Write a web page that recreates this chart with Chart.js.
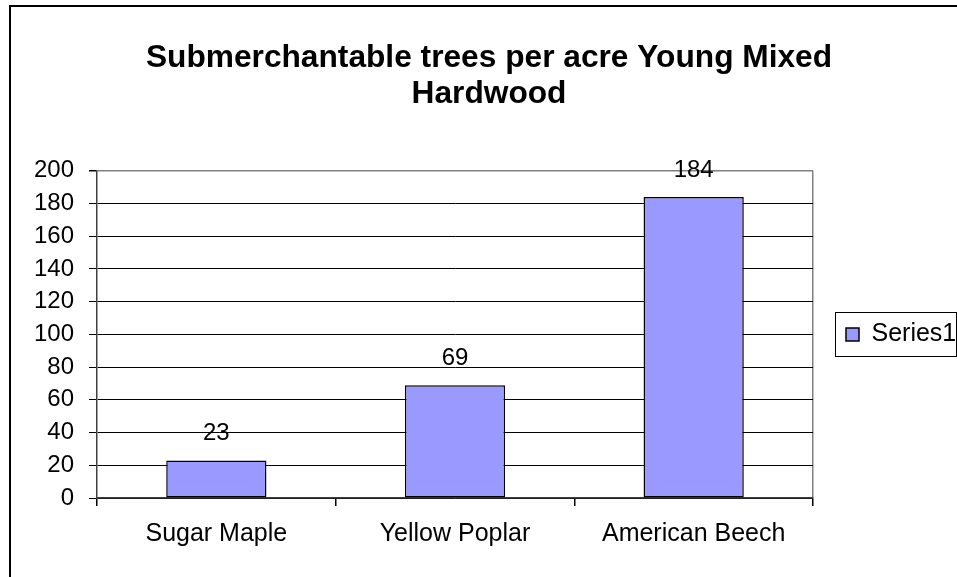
<!DOCTYPE html>
<html>
<head>
<meta charset="utf-8">
<script src="https://cdn.jsdelivr.net/npm/chart.js@4.4.1/dist/chart.umd.min.js"></script>
<style>
  html, body { margin: 0; padding: 0; background: #fff; overflow: hidden; }
  #wrap { position: relative; width: 957px; height: 577px; }
  #frame { position: absolute; left: 9px; top: 5px; width: 2000px; height: 2000px;
           border-left: 2px solid #000; border-top: 2px solid #000; }
  canvas { position: absolute; left: 0; top: 0; }
</style>
</head>
<body>
<div id="wrap">
  <div id="frame"></div>
  <canvas id="c" width="957" height="577"></canvas>
</div>
<script>
const titleLines = ['Submerchantable trees per acre Young Mixed', 'Hardwood'];
const categories = ['Sugar Maple', 'Yellow Poplar', 'American Beech'];
const seriesName = 'Series1';
const seriesValues = [23, 69, 184];
const yTicks = [0, 20, 40, 60, 80, 100, 120, 140, 160, 180, 200];

const FONT = '"Liberation Sans", Arial, sans-serif';
Chart.defaults.font.family = FONT;
Chart.defaults.color = '#000';

const PLOT_LEFT = 97, PLOT_RIGHT = 813, TITLE_CENTER = 489;
let padR = 0;
let padL = 2 * TITLE_CENTER - 957 + padR;

const valueLabels = {
  id: 'valueLabels',
  afterDatasetsDraw(chart) {
    const ctx = chart.ctx;
    const meta = chart.getDatasetMeta(0);
    ctx.save();
    ctx.font = '24px ' + FONT;
    ctx.fillStyle = '#000';
    ctx.textAlign = 'center';
    ctx.textBaseline = 'alphabetic';
    meta.data.forEach((bar, i) => {
      ctx.fillText(String(chart.data.datasets[0].data[i]), bar.x, bar.y - 20);
    });
    ctx.restore();
  }
};

const legendFrame = {
  id: 'legendFrame',
  afterDraw(chart) {
    const lg = chart.legend;
    if (!lg || !lg.legendHitBoxes || !lg.legendHitBoxes.length) return;
    const hb = lg.legendHitBoxes[0];
    const cy = hb.top + hb.height / 2;
    const ctx = chart.ctx;
    ctx.save();
    ctx.strokeStyle = '#000';
    ctx.lineWidth = 1;
    ctx.strokeRect(Math.round(hb.left - 11) + 0.5, Math.round(cy - 22) + 0.5, 121, 44);
    ctx.restore();
  }
};

const chart = new Chart(document.getElementById('c'), {
  type: 'bar',
  data: {
    labels: categories,
    datasets: [{
      label: seriesName,
      data: seriesValues,
      backgroundColor: '#9999FF',
      borderColor: '#000',
      borderWidth: 1.5,
      borderSkipped: false,
      barPercentage: 0.42,
      categoryPercentage: 1.0
    }]
  },
  options: {
    responsive: false,
    animation: false,
    devicePixelRatio: 1,
    layout: { padding: { left: padL, right: padR, top: 0, bottom: 0 } },
    plugins: {
      title: {
        display: true,
        text: titleLines,
        font: { size: 31.7, weight: 'bold', family: FONT, lineHeight: 1.13 },
        color: '#000',
        padding: { top: 40.5, bottom: 58.7 }
      },
      legend: {
        display: true,
        position: 'right',
        fullSize: false,
        labels: {
          boxWidth: 13,
          boxHeight: 13,
          padding: 33,
          font: { size: 25, family: FONT },
          color: '#000'
        }
      },
      tooltip: { enabled: false }
    },
    scales: {
      x: {
        offset: true,
        grid: {
          offset: true,
          drawOnChartArea: true,
          drawTicks: true,
          tickLength: 8,
          color: (c) => (c.tick ? 'rgba(0,0,0,0)' : '#808080'),
          tickColor: '#000',
          lineWidth: 1.5
        },
        border: { display: true, color: '#404040', width: 1.5 },
        ticks: { font: { size: 25, family: FONT }, color: '#000', padding: 13.5, maxRotation: 0 },
        afterFit(scale) { scale.height = 79; }
      },
      y: {
        min: 0,
        max: 200,
        afterBuildTicks(scale) { scale.ticks = yTicks.map(v => ({ value: v })); },
        grid: {
          drawTicks: true,
          tickLength: 8,
          color: (c) => (c.tick && c.tick.value === 200 ? '#808080' : '#000'),
          tickColor: '#000',
          lineWidth: (c) => (c.tick && c.tick.value === 200 ? 1.5 : 1)
        },
        border: { display: true, color: '#404040', width: 1.5 },
        ticks: { font: { size: 24, family: FONT }, color: '#000', padding: 15 },
        afterFit(scale) { scale.width = PLOT_LEFT - padL; }
      }
    }
  },
  plugins: [valueLabels, legendFrame]
});

// Align the plot's right edge with the reference, keeping the title centred.
const dx = chart.chartArea.right - PLOT_RIGHT;
if (Math.abs(dx) > 0.1) {
  padR += dx;
  padL = 2 * TITLE_CENTER - 957 + padR;
  chart.options.layout.padding.left = padL;
  chart.options.layout.padding.right = padR;
  chart.update();
}
</script>
</body>
</html>
